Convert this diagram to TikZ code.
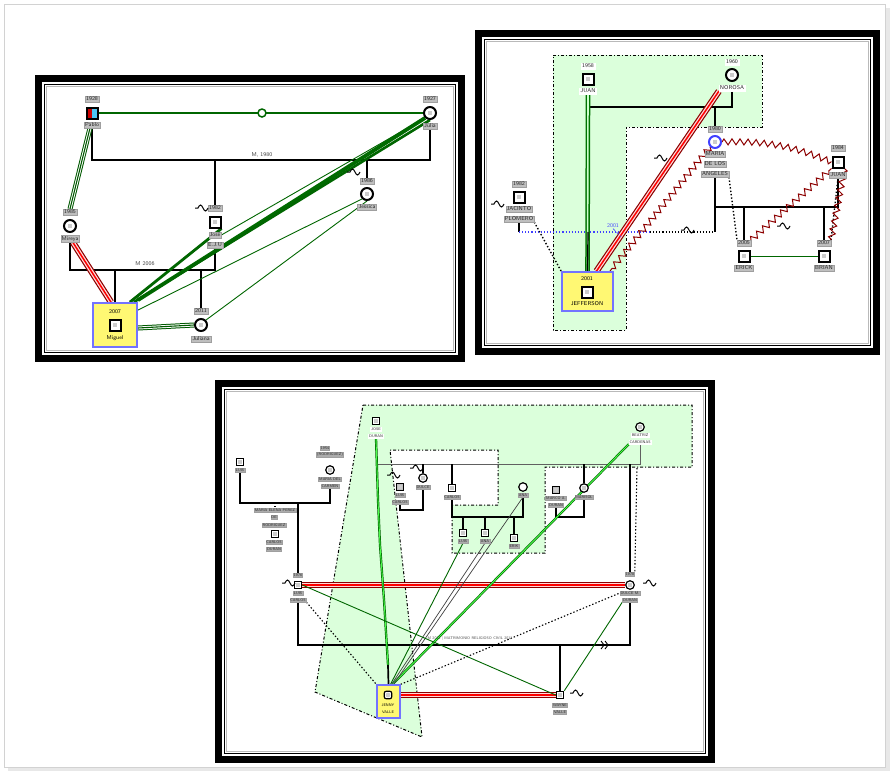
\documentclass[tikz,border=0pt]{standalone}
\usetikzlibrary{decorations.pathmorphing}
\pgfdeclarelayer{bg}
\pgfdeclarelayer{ln}
\pgfsetlayers{bg,ln,main}
\newcommand\pframe[4]{%
 \fill[black] (#1,#2) rectangle (#3,#4);
 \fill[white] (#1+7,#2+7) rectangle (#3-7,#4-7);
 \draw[black, line width=1.1pt] (#1+9.5,#2+9.5) rectangle (#3-9.5,#4-9.5);
 \draw[gray!55, line width=0.9pt] (#1+11.5,#2+11.5) rectangle (#3-11.5,#4-11.5);}
\newcommand\wavy[2]{\draw[line width=1pt] (#1-8,#2+1) -- (#1-5,#2+1) sin (#1-2.5,#2-2) cos (#1,#2+1) sin (#1+2.5,#2+4) cos (#1+5,#2+1);}
\tikzset{
 lbl/.style={fill=gray!50, draw=gray!75, line width=0.3pt, inner sep=0.9pt, font=\sffamily\fontsize{5.6}{5.6}\selectfont, text=black!85},
 slbl/.style={lbl, fill=gray!65, font=\sffamily\fontsize{3.8}{3.8}\selectfont, inner sep=0.6pt},
 wlbl/.style={lbl, fill=white, draw=white},
 ytxt/.style={font=\sffamily\fontsize{5.6}{5.6}\selectfont, inner sep=0.5pt},
 iconpic/.style={path picture={\fill[gray!40] ([shift={(-2.3pt,-2.3pt)}]path picture bounding box.center) rectangle ([shift={(2.3pt,2.3pt)}]path picture bounding box.center);}},
 sq/.style={draw=black, line width=2pt, fill=white, minimum size=11pt, inner sep=0pt, iconpic},
 ssq/.style={sq, minimum size=7.5pt, line width=1.2pt},
 ci/.style={circle, draw=black, line width=2pt, fill=white, minimum size=12pt, inner sep=0pt, iconpic},
 sci/.style={ci, minimum size=8.5pt, line width=1.2pt},
 sqc/.style={sq, path picture={\fill[red!80!black] (path picture bounding box.south west) rectangle (path picture bounding box.north); \fill[cyan!70] (path picture bounding box.south) rectangle (path picture bounding box.north east);}},
 rel/.style={draw=black, line width=1.2pt},
 grel/.style={draw=gray!75!black, line width=0.9pt},
 gl/.style={draw=green!40!black, line width=1.3pt},
 gthin/.style={draw=green!40!black, line width=0.9pt},
 gthick/.style={draw=green!42!black, line width=3.8pt},
 gtri/.style={draw=green!35!black, line width=5pt, postaction={draw=white, line width=3pt, postaction={draw=green!35!black, line width=1.1pt}}},
 gdbl/.style={draw=green!40!black, line width=2.6pt, postaction={draw=green!70!white, line width=0.9pt}},
 rtri/.style={draw=red!55!black, line width=6.4pt, postaction={draw=white!85!red, line width=4pt, postaction={draw=red, line width=1.5pt}}},
 zz/.style={draw=red!55!black, line width=1pt, decorate, decoration={zigzag, segment length=8pt, amplitude=3pt}},
 dotl/.style={draw=black, line width=1.4pt, dotted},
 ybox/.style={draw=blue!55, line width=1.8pt, fill=yellow!55},
 region/.style={fill=green!14, draw=black, line width=1pt, dashdotted},
}
\begin{document}
\begin{tikzpicture}[x=1pt,y=-1pt]
\useasboundingbox (0,0) rectangle (893,774);
\begin{pgfonlayer}{bg}
 \fill[white] (0,0) rectangle (893,774);
 \fill[gray!18] (8,8) rectangle (890,771);
 \fill[white] (4,4) rectangle (885,767);
 \draw[gray!35, line width=1pt] (4,4) rectangle (885,767);
 \pframe{35}{75}{465}{362}
 \pframe{475}{30}{880}{355}
 \pframe{215}{380}{715}{763}
 \draw[region] (553,55) -- (762,55) -- (762,127) -- (626,127) -- (626,330) -- (553,330) -- cycle;
 \draw[region] (363,405) -- (692,405) -- (692,467) -- (545,467) -- (545,553) -- (452,553) -- (452,505) -- (498,505) -- (498,450) -- (390,450) -- (422,737) -- (315,692) -- cycle;
\end{pgfonlayer}

%%%%%%%% PANEL 1
\node[sqc] (pablo) at (92,113) {};
\node[lbl] (pabloY) at (92,99) {1928};
\node[lbl] (pabloN) at (92,125) {Pablo};
\node[ci] (julia) at (430,113) {};
\node[lbl] (juliaY) at (430,99) {1927};
\node[lbl] (juliaN) at (430,126) {Julia};
\node[ci] (jessica) at (367,194) {};
\node[lbl] (jessicaY) at (367,181) {1986};
\node[lbl] (jessicaN) at (367,207) {Jessica};
\node[sq] (jose) at (215,222) {};
\node[lbl] (joseY) at (215,208) {1982};
\node[lbl] (joseN) at (215,235) {José};
\node[lbl] (joseN2) at (215,245) {E.J.U};
\node[ci] (mireya) at (70,226) {};
\node[lbl] (mireyaY) at (70,212) {1985};
\node[lbl] (mireyaN) at (70,239) {Mireya};
\node[ybox, minimum width=44pt, minimum height=44pt] (miguelbox) at (115,325) {};
\node[ytxt] (miguelY) at (115,312) {2007};
\node[sq] (miguel) at (115,325) {};
\node[ytxt] (miguelN) at (115,338) {Miguel};
\node[ci] (juliana) at (201,325) {};
\node[lbl] (julianaY) at (201,311) {2011};
\node[lbl] (julianaN) at (201,339) {Juliana};
\node[ytxt, text=black!75] (m1lbl) at (262,155) {M, 1980};
\node[ytxt, text=black!75] (m2lbl) at (145,264) {M 2006};
\coordinate (m1) at (262,160);
\coordinate (c1) at (215,160);
\coordinate (c2) at (367,160);
\coordinate (m2) at (145,270);
\coordinate (c3) at (115,270);
\coordinate (c4) at (201,270);
\begin{pgfonlayer}{ln}
 \draw[gl] (pablo) -- (julia);
 \draw[rel] (pabloN.south) |- (m1) -| (juliaN.south);
 \draw[rel] (c1) -- (joseY.north);
 \draw[rel] (c2) -- (jessicaY.north);
 \draw[rel] (mireyaN.south) |- (m2) -| (joseN2.south);
 \draw[rel] (c3) -- (miguelbox.north);
 \draw[rel] (c4) -- (julianaY.north);
 \draw[gtri] ([xshift=-2pt]pabloN.south) -- (mireyaY.north);
 \draw[rtri] ([xshift=3pt]mireyaN.south) -- ([xshift=-4pt]miguelbox.north);
 \draw[gthick] ([yshift=2pt]miguelbox.north east) -- (julia.south west);
 \draw[gl, line width=2.6pt] ([xshift=-4pt]miguelbox.north east) -- (julia.south);
 \draw[gl, line width=2.8pt] ([xshift=-8pt]miguelbox.north east) -- (jose.south east);
 \draw[gthin] (joseN.east) -- (julia.south west);
 \draw[gthin] ([yshift=-8pt]miguelbox.north east) -- (jessica.south west);
 \draw[gthin] (juliana.north east) -- (jessica.south);
 \draw[gtri] ([yshift=-3pt]miguelbox.east) -- (juliana.west);
\end{pgfonlayer}
\node[circle, draw=green!40!black, line width=1.5pt, fill=white, minimum size=8pt, inner sep=0pt] (ring) at (262,113) {};
\wavy{203}{207}
\wavy{355}{171}

%%%%%%%% PANEL 2
\node[sq] (juan) at (588,79) {};
\node[wlbl] (juanY) at (588,66) {1958};
\node[wlbl] (juanN) at (588,91) {JUAN};
\node[ci] (rosa) at (732,75) {};
\node[wlbl] (rosaY) at (732,62) {1960};
\node[wlbl] (rosaN) at (732,88) {NOROSA};
\node[ci, draw=blue!75] (maria) at (715,142) {};
\node[lbl] (mariaY) at (715,129) {1980};
\node[lbl] (mariaN1) at (715,154) {MARIA};
\node[lbl] (mariaN2) at (715,164) {DE LOS};
\node[lbl] (mariaN3) at (715,174) {ANGELES};
\node[sq] (juan2) at (838,162) {};
\node[lbl] (juan2Y) at (838,148) {1984};
\node[lbl] (juan2N) at (838,175) {JUAN};
\node[sq] (erick) at (744,256) {};
\node[lbl] (erickY) at (744,243) {2005};
\node[lbl] (erickN) at (744,268) {ERICK};
\node[sq] (brian) at (824,256) {};
\node[lbl] (brianY) at (824,243) {2007};
\node[lbl] (brianN) at (824,268) {BRIAN};
\node[sq] (jacinto) at (519,197) {};
\node[lbl] (jacintoY) at (519,184) {1982};
\node[lbl] (jacintoN1) at (519,209) {JACINTO};
\node[lbl] (jacintoN2) at (519,219) {PLOMERO};
\node[ybox, minimum width=51pt, minimum height=39pt] (jeffbox) at (587.5,291.5) {};
\node[ytxt] (jeffY) at (587,279) {2001};
\node[sq] (jeff) at (587,292) {};
\node[ytxt] (jeffN) at (587,304) {JEFFERSON};
\node[ytxt, text=blue!70] (lbl2001) at (613,226) {2001};
\coordinate (m3) at (660,107);
\coordinate (c5) at (715,107);
\coordinate (rj) at (715,232);
\coordinate (m4) at (715,207);
\coordinate (c6) at (744,207);
\coordinate (c7) at (824,207);
\coordinate (jr) at (519,232);
\coordinate (jm) at (650,232);
\coordinate (c8) at (588,232);
\begin{pgfonlayer}{ln}
 \draw[rel] (juanN.south) |- (m3) -| (rosaN.south);
 \draw[rel] (c5) -- (mariaY.north);
 \draw[rel] (mariaN3.south) -- (rj);
 \draw[rel] (m4) -| (juan2N.south);
 \draw[rel] (c6) -- (erickY.north);
 \draw[rel] (c7) -- (brianY.north);
 \draw[green!40!black, line width=0.9pt] (erick) -- (brian);
 \draw[dotl] (mariaN3.south east) -- (erickY.north west);
 \draw[dotl] (juan2N.south) -- (brianY.north east);
 \draw[rel] (jacintoN2.south) -- (jr);
 \draw[blue!75, line width=1.1pt, dotted] (jr) -- (jm);
 \draw[black, line width=1.1pt, dotted] (jm) -- (rj);
 \draw[draw=green!45!black, line width=4.6pt, postaction={draw=green!20!white, line width=1.6pt}] (juanN.south) -- (jeffbox.north);
 \draw[rel] (c8) -- (jeffbox.north);
 \draw[dotl] (jacintoN2.south east) -- (jeffbox.north west);
 \draw[rtri] (rosaN.south west) -- ([xshift=9pt]jeffbox.north);
 \draw[zz] (maria.south west) -- ([xshift=-4pt]jeffbox.north east);
 \draw[zz] (maria.east) to[bend left=12] (juan2.west);
 \draw[zz] (erickY.north east) -- (juan2.south west);
 \draw[zz] (juan2.south east) -- (brianY.north east);
 \draw[blue!70, densely dashed, line width=0.7pt] (lbl2001.south) -- ++(8,8);
\end{pgfonlayer}
\wavy{662}{157}
\wavy{785}{225}
\wavy{689}{229}
\wavy{499}{203}

%%%%%%%% PANEL 3
\node[ssq] (pa) at (240,462) {};
\node[slbl] (paN) at (240,470) {LUIS};
\node[sci] (pb) at (330,470) {};
\node[slbl] (pbY) at (325,448) {1954};
\node[slbl] (pbY2) at (330,455) {(RODRIGUEZ)};
\node[slbl] (pbN) at (330,479) {MARIA DEL};
\node[slbl] (pbN2) at (330,486) {CARMEN};
\node[ssq] (pc) at (275,534) {};
\node[slbl] (pcY) at (275,510) {MARIA ELENA PEREZ};
\node[slbl] (pcY2) at (274,517) {DE};
\node[slbl] (pcY3) at (274,525) {RODRIGUEZ};
\node[slbl] (pcN) at (274,542) {CARLOS};
\node[slbl] (pcN2) at (274,549) {DURAN};
\node[ssq] (pd) at (298,585) {};
\node[slbl] (pdY) at (298,575) {1976};
\node[slbl] (pdN) at (298,593) {LUIS};
\node[slbl] (pdN2) at (298,600) {CARLOS};
\node[sci] (pe) at (630,585) {};
\node[slbl] (peY) at (630,574) {1978};
\node[slbl] (peN) at (630,593) {DULCE M.};
\node[slbl] (peN2) at (630,600) {DURAN};
\node[ssq] (pf) at (560,695) {};
\node[slbl] (pfN) at (560,705) {WAYNE};
\node[slbl] (pfN2) at (560,712) {VALLE};
\node[ybox, minimum width=23pt, minimum height=33pt, line width=1.4pt] (jennybox) at (388.5,701.5) {};
\node[ssq, rounded corners=2pt] (jenny) at (388,695) {};
\node[font=\sffamily\fontsize{3.8}{3.8}\selectfont, inner sep=0.3pt] (jennyN) at (388,705) {JENNY};
\node[font=\sffamily\fontsize{3.8}{3.8}\selectfont, inner sep=0.3pt] (jennyN2) at (388,712) {VALLE};
\node[ssq] (pg) at (376,421) {};
\node[slbl, fill=white, draw=white] (pgN) at (376,429) {JOSE};
\node[slbl, fill=white, draw=white] (pgN2) at (376,436) {DURAN};
\node[sci] (ph) at (640,427) {};
\node[slbl, fill=white, draw=white] (phN) at (640,435) {BEATRIZ};
\node[slbl, fill=white, draw=white] (phN2) at (640,442) {CARDENAS};
\node[ssq, fill=gray!50] (pi) at (400,487) {};
\node[slbl] (piN) at (400,495) {LUIS};
\node[slbl] (piN2) at (400,502) {CARLOS};
\node[sci] (pj) at (423,478) {};
\node[slbl] (pjN) at (423,487) {DULCE};
\node[ssq] (pk) at (452,488) {};
\node[slbl] (pkN) at (452,497) {CARLOS};
\node[sci, path picture={}] (pl) at (523,487) {};
\node[slbl] (plN) at (523,495) {ANA};
\node[ssq] (pm1) at (463,533) {};
\node[slbl] (pm1N) at (463,541) {LUIS};
\node[ssq] (pm2) at (485,533) {};
\node[slbl] (pm2N) at (485,541) {ANA};
\node[ssq] (pm3) at (514,538) {};
\node[slbl] (pm3N) at (514,546) {ERIK};
\node[ssq, fill=gray!50] (pn) at (556,490) {};
\node[slbl] (pnN) at (556,498) {MARCO A.};
\node[slbl] (pnN2) at (556,505) {DURAN};
\node[sci] (po) at (584,488) {};
\node[slbl] (poN) at (584,497) {MARISOL};
\node[font=\sffamily\fontsize{3.8}{3.8}\selectfont, text=black!70] (mlbl3) at (470,639) {M 2011 | MATRIMONIO RELIGIOSO CIVIL 2011};
\coordinate (b1) at (285,503);
\coordinate (b1c) at (275,503);
\coordinate (b1d) at (298,503);
\coordinate (b2) at (460,645);
\coordinate (b2c) at (560,645);
\coordinate (b3) at (377,464);
\coordinate (b3e) at (630,464);
\coordinate (b3i) at (423,464);
\coordinate (b3k) at (452,464);
\coordinate (b3o) at (584,464);
\coordinate (b4) at (412,510);
\coordinate (b5) at (490,517);
\coordinate (b5a) at (463,517);
\coordinate (b5b) at (485,517);
\coordinate (b5c) at (514,517);
\coordinate (b6) at (570,517);
\coordinate (gd) at (637,468);
\coordinate (jk) at (388,665);
\begin{pgfonlayer}{ln}
 \draw[rel] (paN.south) |- (b1) -| (pbN2.south);
 \draw[rel, dotted] (b1c) -- (pcY.north);
 \draw[rel] (b1d) -- (pdY.north);
 \draw[rel] (pdN2.south) |- (b2) -| (peN2.south);
 \draw[rel] (b2c) -- (pf.north);
 \draw[grel] (b3) -| (phN2.south);
 \draw[rel] (b3e) -- (peY.north);
 \draw[dotl, line width=1.1pt] (gd) -- (peY.north east);
 \draw[rel] (b3i) -- (pj.north);
 \draw[rel] (b3k) -- (pk.north);
 \draw[rel] (b3o) -- (po.north);
 \draw[rel] (piN2.south) |- (b4) -| (pjN.south);
 \draw[rel] (pkN.south) |- (b5) -| (plN.south);
 \draw[rel] (b5a) -- (pm1.north);
 \draw[rel] (b5b) -- (pm2.north);
 \draw[rel] (b5c) -- (pm3.north);
 \draw[rel] (pnN2.south) |- (b6) -| (poN.south);
 \draw[rtri] (pd.east) -- (pe.west);
 \draw[rtri] (jennybox.east |- jenny) -- (pf.west);
 \draw[gdbl, line width=2.3pt] (pgN2.south) -- (378,500) -- (380,545) -- (384,600) -- (jk);
 \draw[rel, line width=1.7pt] (jk) -- (jennybox.north);
 \draw[gdbl, line width=2.3pt] ([xshift=4pt]jennybox.north) -- (phN2.south west);
 \draw[gthin] ([xshift=2pt]jennybox.north) -- (pm1N.south);
 \draw[gray!50!black, line width=0.7pt] ([xshift=3pt]jennybox.north) -- (pm2N.south);
 \draw[gray!50!black, line width=0.7pt] ([xshift=5pt]jennybox.north) -- (plN.south);
 \draw[gthin] (pd.east) -- (pf.west);
 \draw[gthin] (peN2.south west) -- (pf.north east);
 \draw[dotl, line width=1.1pt] (pdN2.south east) -- (jennybox.north west);
 \draw[dotl, line width=1.1pt] (jennybox.north east) -- (peN.west);
 \draw[rel, line width=0.9pt] (601,641) -- (604,645) -- (601,649);
 \draw[rel, line width=0.9pt] (605,641) -- (608,645) -- (605,649);
\end{pgfonlayer}
\wavy{290}{582}
\wavy{651}{582}
\wavy{578}{692}
\wavy{395}{474}
\wavy{418}{467}
\end{tikzpicture}
\end{document}
